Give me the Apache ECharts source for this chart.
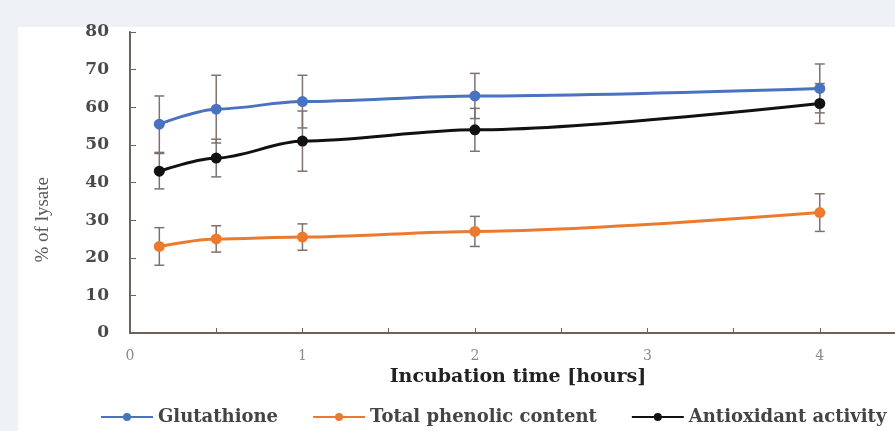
<!DOCTYPE html>
<html>
<head>
<meta charset="utf-8">
<script src="https://cdn.jsdelivr.net/npm/echarts@6/dist/echarts.min.js"></script>
<style>
  html, body { margin: 0; padding: 0; background: #eef1f5; }
  #chart { width: 895px; height: 431px; }
</style>
</head>
<body>
<div id="chart"></div>
<script>
// incubation time (hours)
const times = [0.17, 0.5, 1, 2, 4];
const glutathione = [55.5, 59.5, 61.5, 63, 65];
const glutathioneErr = [7.5, 9, 7, 6, 6.5];
const phenolic = [23, 25, 25.5, 27, 32];
const phenolicErr = [5, 3.5, 3.5, 4, 5];
const antioxidant = [43, 46.5, 51, 54, 61];
const antioxidantErr = [4.7, 5, 8, 5.7, 5.3];
const xTicks = [0, 1, 2, 3, 4];

const names = ['Glutathione', 'Total phenolic content', 'Antioxidant activity'];
const colors = ['#4a72c0', '#ec7a2e', '#111111'];

const serif = '"DejaVu Serif", "Liberation Serif", serif';
const serif2 = '"Liberation Serif", "DejaVu Serif", serif';

function pairs(vals) {
  return times.map((t, i) => [t, vals[i]]);
}
function errData(vals, errs) {
  return times.map((t, i) => [t, vals[i] - errs[i], vals[i] + errs[i]]);
}

// vertical error bar with caps
function errRender(params, api) {
  const lo = api.coord([api.value(0), api.value(1)]);
  const hi = api.coord([api.value(0), api.value(2)]);
  const w = 5;
  const st = { stroke: '#7d726e', lineWidth: 1.5 };
  return {
    type: 'group',
    children: [
      { type: 'line', shape: { x1: lo[0], y1: lo[1], x2: hi[0], y2: hi[1] }, style: st },
      { type: 'line', shape: { x1: lo[0] - w, y1: lo[1], x2: lo[0] + w, y2: lo[1] }, style: st },
      { type: 'line', shape: { x1: hi[0] - w, y1: hi[1], x2: hi[0] + w, y2: hi[1] }, style: st }
    ]
  };
}

const lineVals = [glutathione, phenolic, antioxidant];
const errVals = [glutathioneErr, phenolicErr, antioxidantErr];

const series = [];
lineVals.forEach((vals, k) => {
  series.push({
    name: names[k] + ' err',
    type: 'custom',
    renderItem: errRender,
    encode: { x: 0, y: [1, 2] },
    data: errData(vals, errVals[k]),
    z: 1,
    silent: true
  });
});
lineVals.forEach((vals, k) => {
  series.push({
    name: names[k],
    type: 'line',
    data: pairs(vals),
    smooth: 0.3,
    smoothMonotone: 'x',
    symbol: 'circle',
    symbolSize: 11,
    lineStyle: { color: colors[k], width: 3 },
    itemStyle: { color: colors[k] },
    z: 3
  });
});

const myChart = echarts.init(document.getElementById('chart'));

const option = {
  backgroundColor: '#eef1f5',
  animation: false,
  graphic: [
    { type: 'rect', left: 18, top: 27, shape: { width: 877, height: 404 }, style: { fill: '#ffffff' }, z: -10 },
    {
      type: 'text', left: 34, top: 177, rotation: Math.PI / 2,
      style: { text: '% of lysate', font: '19px ' + serif2, fill: '#5a5a5a' }
    }
  ],
  grid: { left: 130, right: -11, top: 32, bottom: 98, outerBoundsMode: 'none', containLabel: false },
  legend: {
    data: names,
    left: 100,
    top: 408,
    padding: 0,
    itemWidth: 52,
    itemHeight: 10,
    itemGap: 34,
    textStyle: { fontFamily: serif, fontSize: 18, fontWeight: 'bold', color: '#444444' }
  },
  xAxis: {
    type: 'value',
    min: 0,
    max: 4.5,
    interval: 0.5,
    name: 'Incubation time [hours]',
    nameLocation: 'middle',
    nameGap: 31,
    nameTextStyle: { fontFamily: serif, fontSize: 19, fontWeight: 'bold', color: '#222222' },
    axisLine: { lineStyle: { color: '#6b625e', width: 2 } },
    axisTick: { inside: true, length: 5, lineStyle: { color: '#6b625e' } },
    splitLine: { show: false },
    axisLabel: {
      margin: 16,
      fontFamily: serif,
      fontSize: 14,
      color: '#8a8a8a',
      formatter: v => (xTicks.indexOf(v) >= 0 ? String(v) : '')
    }
  },
  yAxis: {
    type: 'value',
    min: 0,
    max: 80,
    interval: 10,
    axisLine: { show: true, lineStyle: { color: '#6b625e', width: 2 } },
    axisTick: { show: true, inside: true, length: 6, lineStyle: { color: '#6b625e' } },
    splitLine: { show: false },
    axisLabel: {
      margin: 21,
      fontFamily: serif,
      fontSize: 17,
      fontWeight: 'bold',
      color: '#4a4a4a'
    }
  },
  series: series
};

myChart.setOption(option);
</script>
</body>
</html>
